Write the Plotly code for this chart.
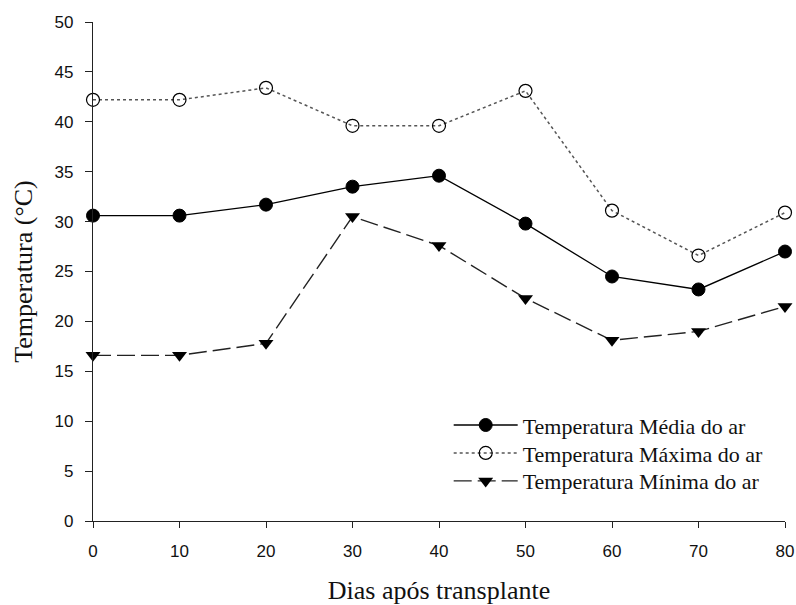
import plotly.graph_objects as go

# Days after transplanting
dias = [0, 10, 20, 30, 40, 50, 60, 70, 80]

# Air temperature (°C)
temp_media = [30.6, 30.6, 31.7, 33.5, 34.6, 29.8, 24.5, 23.2, 27.0]
temp_maxima = [42.2, 42.2, 43.4, 39.6, 39.6, 43.1, 31.1, 26.6, 30.9]
temp_minima = [16.6, 16.6, 17.8, 30.5, 27.6, 22.3, 18.1, 19.0, 21.5]

nomes = [
    "Temperatura Média do ar",
    "Temperatura Máxima do ar",
    "Temperatura Mínima do ar",
]

SERIF = "Liberation Serif, Times New Roman, serif"
SANS = "Liberation Sans, Arial, sans-serif"

fig = go.Figure()

fig.add_trace(go.Scatter(
    x=dias, y=temp_media, name=nomes[0], mode="lines+markers",
    line=dict(color="black", width=1.3, dash="solid"),
    marker=dict(symbol="circle", size=13, color="black",
                line=dict(color="black", width=1)),
    cliponaxis=False, legend="legend",
))
fig.add_trace(go.Scatter(
    x=dias, y=temp_maxima, name=nomes[1], mode="lines+markers",
    line=dict(color="#555555", width=1.5, dash="dot"),
    marker=dict(symbol="circle-open", size=13, color="black",
                line=dict(color="black", width=1.2)),
    cliponaxis=False, legend="legend2",
))
fig.add_trace(go.Scatter(
    x=dias, y=temp_minima, name=nomes[2], mode="lines+markers",
    line=dict(color="#222222", width=1.4, dash="18px,6px"),
    marker=dict(symbol="triangle-down", size=13, color="black",
                line=dict(color="black", width=0)),
    cliponaxis=False, legend="legend3",
))

# one legend box per series so the rows can sit closer than the default spacing
legend_style = dict(
    x=0.514, xanchor="left", yanchor="middle",
    font=dict(family=SERIF, size=22, color="#111111"),
    bgcolor="rgba(0,0,0,0)", borderwidth=0, itemwidth=64,
)

fig.update_layout(
    width=796, height=605,
    margin=dict(l=93, r=11, t=22, b=84),
    paper_bgcolor="white", plot_bgcolor="white",
    showlegend=True,
    legend=dict(legend_style, y=0.192),
    legend2=dict(legend_style, y=0.136),
    legend3=dict(legend_style, y=0.080),
    xaxis=dict(
        range=[0, 80], tickmode="array", tickvals=dias,
        showline=True, linecolor="#222222", linewidth=1.3,
        ticks="outside", ticklen=6, tickwidth=1.3, tickcolor="#222222",
        ticklabelstandoff=8, automargin=False,
        showgrid=False, zeroline=False,
        tickfont=dict(family=SANS, size=17, color="#111111"),
        title=dict(text="Dias após transplante", standoff=27,
                   font=dict(family=SERIF, size=26, color="#111111")),
    ),
    yaxis=dict(
        range=[0, 50], tickmode="array", tickvals=list(range(0, 51, 5)),
        showline=True, linecolor="#222222", linewidth=1.3,
        ticks="outside", ticklen=7, tickwidth=1.3, tickcolor="#222222",
        ticklabelstandoff=8, automargin=False,
        showgrid=False, zeroline=False,
        tickfont=dict(family=SANS, size=17, color="#111111"),
        title=dict(text="Temperatura (°C)", standoff=14,
                   font=dict(family=SERIF, size=26, color="#111111")),
    ),
)

fig.write_html("out.html")
